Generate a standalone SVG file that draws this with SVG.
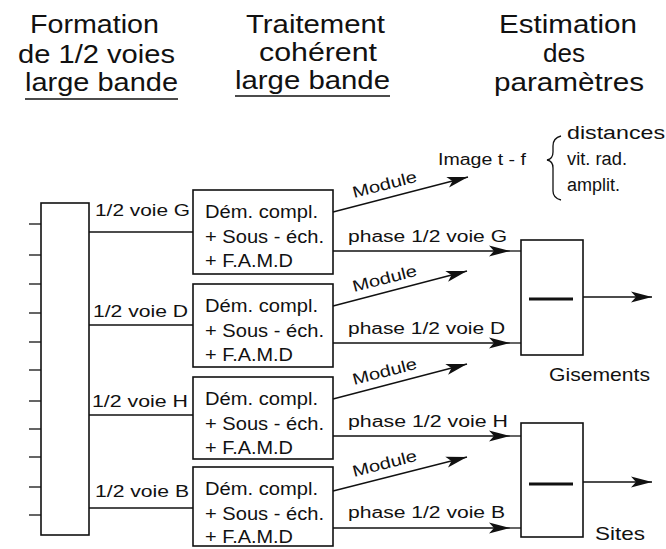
<svg xmlns="http://www.w3.org/2000/svg" width="666" height="549" viewBox="0 0 666 549">
<defs>
<style>
text{font-family:"Liberation Sans",Arial,Helvetica,sans-serif;fill:#111}
.h{font-size:25px}
.t{font-size:18px}
.g{font-size:19px}
.s{font-size:16px}
.box{fill:#fff;stroke:#111;stroke-width:1.6}
.ln{fill:none;stroke:#111;stroke-width:1.3}
.bar{stroke:#111;stroke-width:3}
</style>
<marker id="ah" markerUnits="userSpaceOnUse" markerWidth="22" markerHeight="12" refX="21" refY="6" orient="auto">
<path d="M21,6 L0,0.5 L5,6 L0,11.5 Z" fill="#111"/>
</marker>
</defs>

<g id="headers">
<text class="h" x="30" y="33" textLength="129" lengthAdjust="spacingAndGlyphs">Formation</text>
<text class="h" x="18" y="63" textLength="157" lengthAdjust="spacingAndGlyphs">de 1/2 voies</text>
<text class="h" x="25" y="91" textLength="153" lengthAdjust="spacingAndGlyphs">large bande</text>
<line class="ln" x1="25" y1="99" x2="178" y2="99"/>
<text class="h" x="246" y="33" textLength="139" lengthAdjust="spacingAndGlyphs">Traitement</text>
<text class="h" x="259" y="61" textLength="118" lengthAdjust="spacingAndGlyphs">cohérent</text>
<text class="h" x="235" y="89" textLength="155" lengthAdjust="spacingAndGlyphs">large bande</text>
<line class="ln" x1="235" y1="96" x2="390" y2="96"/>
<text class="h" x="499" y="33" textLength="138" lengthAdjust="spacingAndGlyphs">Estimation</text>
<text class="h" x="543" y="62" textLength="42" lengthAdjust="spacingAndGlyphs">des</text>
<text class="h" x="494" y="91" textLength="150" lengthAdjust="spacingAndGlyphs">paramètres</text>
</g>

<g id="beamformer">
<rect class="box" x="41" y="203" width="48" height="332"/>
<g class="ln">
<line x1="29" y1="224" x2="41" y2="224"/>
<line x1="29" y1="255" x2="41" y2="255"/>
<line x1="29" y1="284" x2="41" y2="284"/>
<line x1="29" y1="313" x2="41" y2="313"/>
<line x1="29" y1="342" x2="41" y2="342"/>
<line x1="29" y1="370" x2="41" y2="370"/>
<line x1="29" y1="401" x2="41" y2="401"/>
<line x1="29" y1="429" x2="41" y2="429"/>
<line x1="29" y1="457" x2="41" y2="457"/>
<line x1="29" y1="487" x2="41" y2="487"/>
<line x1="29" y1="515" x2="41" y2="515"/>
</g>
</g>

<g id="proc-G">
<rect class="box" x="193" y="190" width="140" height="84"/>
<text class="t" x="205" y="218" textLength="113" lengthAdjust="spacingAndGlyphs">Dém. compl.</text>
<text class="t" x="205" y="243" textLength="119" lengthAdjust="spacingAndGlyphs">+ Sous - éch.</text>
<text class="t" x="205" y="267" textLength="88" lengthAdjust="spacingAndGlyphs">+ F.A.M.D</text>
</g>
<g id="proc-D">
<rect class="box" x="193" y="284" width="140" height="83"/>
<text class="t" x="205" y="312" textLength="113" lengthAdjust="spacingAndGlyphs">Dém. compl.</text>
<text class="t" x="205" y="337" textLength="119" lengthAdjust="spacingAndGlyphs">+ Sous - éch.</text>
<text class="t" x="205" y="361" textLength="88" lengthAdjust="spacingAndGlyphs">+ F.A.M.D</text>
</g>
<g id="proc-H">
<rect class="box" x="193" y="377" width="140" height="82"/>
<text class="t" x="205" y="405" textLength="113" lengthAdjust="spacingAndGlyphs">Dém. compl.</text>
<text class="t" x="205" y="430" textLength="119" lengthAdjust="spacingAndGlyphs">+ Sous - éch.</text>
<text class="t" x="205" y="454" textLength="88" lengthAdjust="spacingAndGlyphs">+ F.A.M.D</text>
</g>
<g id="proc-B">
<rect class="box" x="193" y="467" width="140" height="79"/>
<text class="t" x="205" y="495" textLength="113" lengthAdjust="spacingAndGlyphs">Dém. compl.</text>
<text class="t" x="205" y="520" textLength="119" lengthAdjust="spacingAndGlyphs">+ Sous - éch.</text>
<text class="t" x="205" y="543" textLength="88" lengthAdjust="spacingAndGlyphs">+ F.A.M.D</text>
</g>

<g id="est-gisements">
<rect class="box" x="521" y="240" width="62" height="115"/>
<line class="bar" x1="529" y1="299" x2="573" y2="299"/>
<text class="g" x="549" y="381" textLength="101" lengthAdjust="spacingAndGlyphs">Gisements</text>
</g>
<g id="est-sites">
<rect class="box" x="521" y="423" width="62" height="114"/>
<line class="bar" x1="529" y1="484" x2="573" y2="484"/>
<text class="g" x="595" y="540" textLength="50" lengthAdjust="spacingAndGlyphs">Sites</text>
</g>

<g id="image-tf">
<text class="s" x="438" y="165" textLength="88" lengthAdjust="spacingAndGlyphs">Image t - f</text>
<path class="ln" d="M561,136 Q553,138 553,146 L553,152 Q553,159 547,160 Q553,161 553,168 L553,191 Q553,198 561,200"/>
<text class="t" x="567" y="139" textLength="98" lengthAdjust="spacingAndGlyphs">distances</text>
<text class="t" x="567" y="165" textLength="60" lengthAdjust="spacingAndGlyphs">vit. rad.</text>
<text class="t" x="567" y="191" textLength="53" lengthAdjust="spacingAndGlyphs">amplit.</text>
</g>

<g id="connectors">
<g class="ln">
<line x1="89" y1="232" x2="193" y2="232"/>
<line x1="89" y1="325" x2="193" y2="325"/>
<line x1="89" y1="415" x2="193" y2="415"/>
<line x1="89" y1="508" x2="193" y2="508"/>
<line x1="333" y1="251" x2="510" y2="251" marker-end="url(#ah)"/>
<line x1="510" y1="251" x2="521" y2="251"/>
<line x1="333" y1="343" x2="510" y2="343" marker-end="url(#ah)"/>
<line x1="510" y1="343" x2="521" y2="343"/>
<line x1="333" y1="436" x2="510" y2="436" marker-end="url(#ah)"/>
<line x1="510" y1="436" x2="521" y2="436"/>
<line x1="333" y1="528" x2="510" y2="528" marker-end="url(#ah)"/>
<line x1="510" y1="528" x2="521" y2="528"/>
<line x1="583" y1="297" x2="652" y2="297" marker-end="url(#ah)"/>
<line x1="583" y1="482" x2="652" y2="482" marker-end="url(#ah)"/>
<line x1="333" y1="212" x2="468" y2="177" marker-end="url(#ah)"/>
<line x1="333" y1="306" x2="467" y2="271" marker-end="url(#ah)"/>
<line x1="333" y1="399" x2="467" y2="364" marker-end="url(#ah)"/>
<line x1="333" y1="491" x2="467" y2="457" marker-end="url(#ah)"/>
</g>
<text class="s" x="95" y="216" textLength="95" lengthAdjust="spacingAndGlyphs">1/2  voie G</text>
<text class="s" x="93" y="317" textLength="95" lengthAdjust="spacingAndGlyphs">1/2  voie D</text>
<text class="s" x="92" y="407" textLength="96" lengthAdjust="spacingAndGlyphs">1/2  voie H</text>
<text class="s" x="95" y="497" textLength="94" lengthAdjust="spacingAndGlyphs">1/2  voie B</text>
<text class="s" x="348" y="242" textLength="159" lengthAdjust="spacingAndGlyphs">phase 1/2  voie G</text>
<text class="s" x="348" y="334" textLength="157" lengthAdjust="spacingAndGlyphs">phase 1/2  voie D</text>
<text class="s" x="348" y="427" textLength="160" lengthAdjust="spacingAndGlyphs">phase 1/2  voie H</text>
<text class="s" x="348" y="518" textLength="157" lengthAdjust="spacingAndGlyphs">phase 1/2  voie B</text>
<text class="s" transform="translate(354,198) rotate(-14.5)" textLength="66" lengthAdjust="spacingAndGlyphs">Module</text>
<text class="s" transform="translate(354,292) rotate(-14.5)" textLength="66" lengthAdjust="spacingAndGlyphs">Module</text>
<text class="s" transform="translate(354,385) rotate(-14.5)" textLength="66" lengthAdjust="spacingAndGlyphs">Module</text>
<text class="s" transform="translate(354,477) rotate(-14.5)" textLength="66" lengthAdjust="spacingAndGlyphs">Module</text>
</g>
</svg>
